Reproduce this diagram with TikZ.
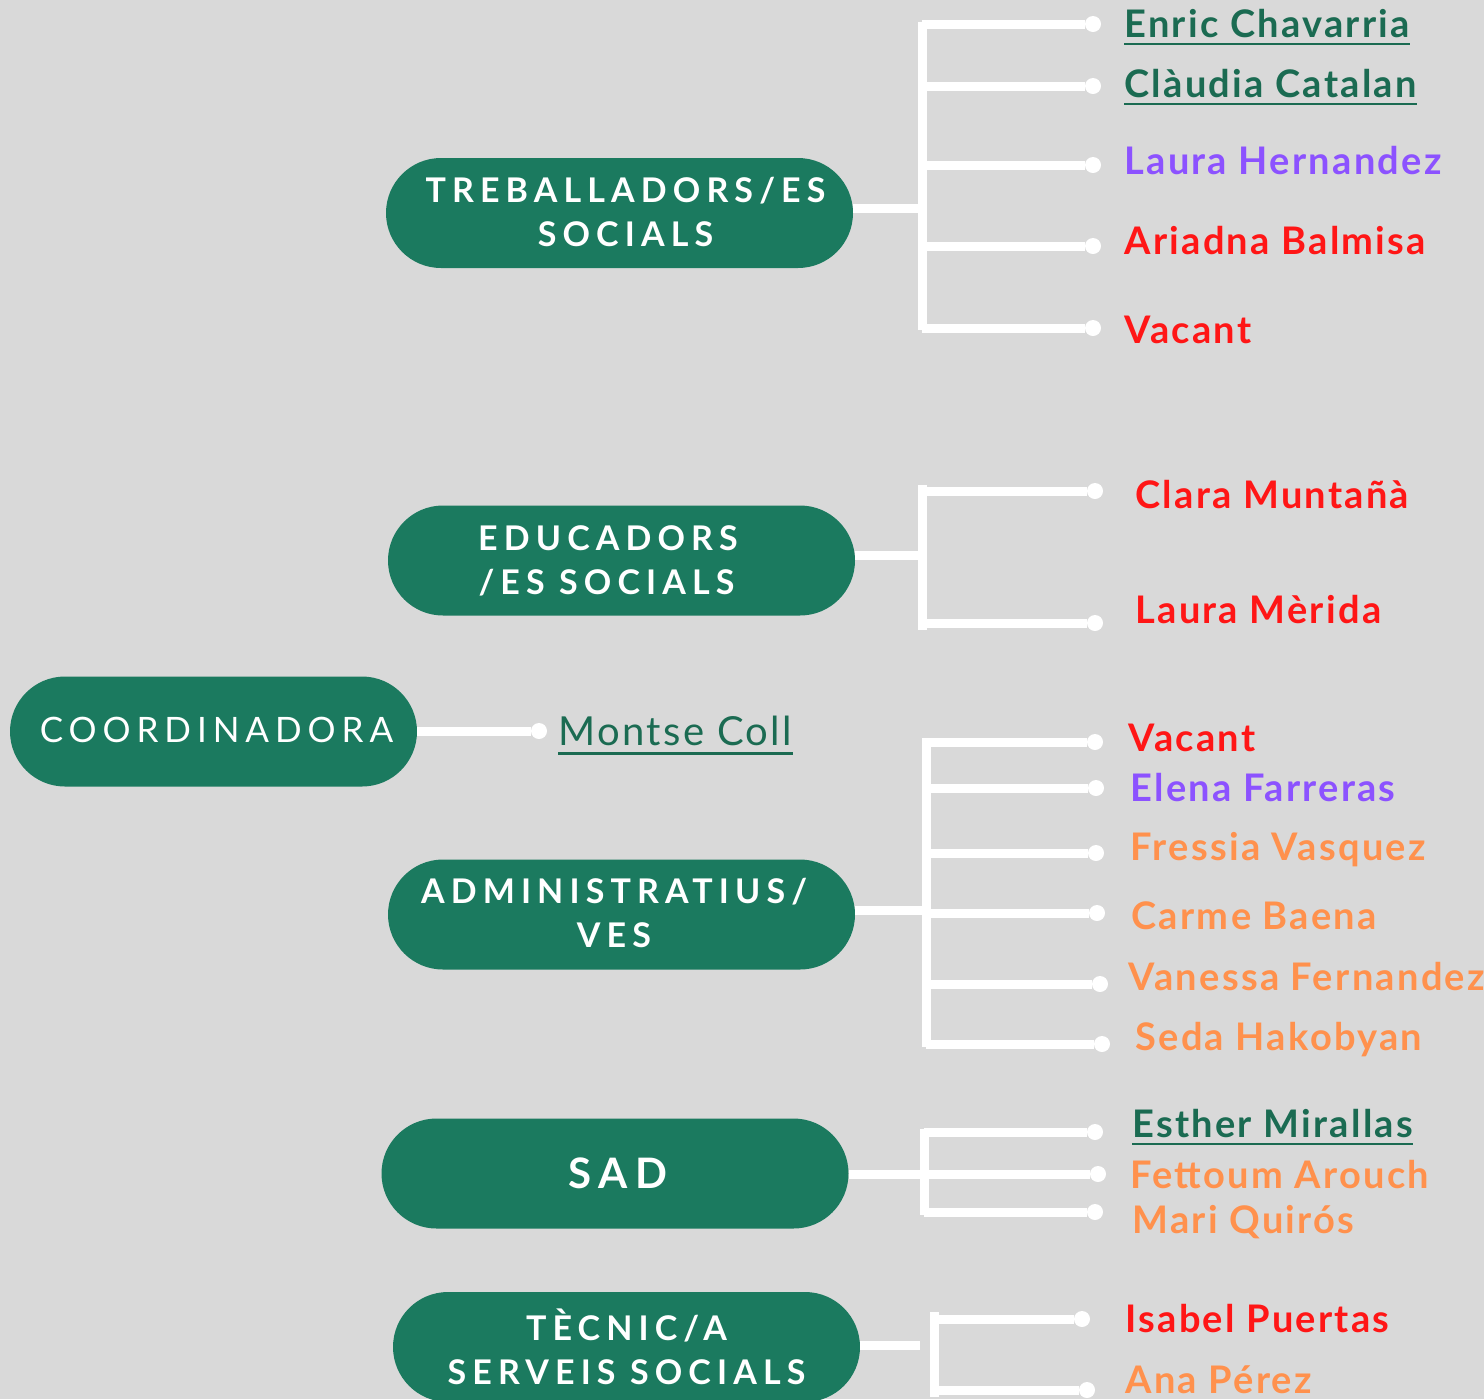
\documentclass[tikz,border=0pt]{standalone}
\usepackage{fontspec}
\setmainfont{Lato}
\newfontfamily\pillfont[LetterSpace=18]{Lato Bold}
\newfontfamily\coordfont[LetterSpace=17]{Lato}
\newfontfamily\namefont[LetterSpace=6]{Lato Bold}
\newfontfamily\montsefont[LetterSpace=6]{Lato}
\definecolor{bgc}{HTML}{D9D9D9}
\definecolor{pillc}{HTML}{1B7A5F}
\definecolor{greent}{HTML}{1B6B52}
\definecolor{purplet}{HTML}{8C52FF}
\definecolor{redt}{HTML}{FF1616}
\definecolor{oranget}{HTML}{FF914D}
\tikzset{
  pill/.style={fill=pillc, text=white, rounded corners=27.5pt, minimum width=233.5pt, minimum height=55pt, inner sep=0pt, align=center, font=\pillfont\fontsize{17}{22}\selectfont},
  conn/.style={draw=white, line width=4.5pt},
  dotn/.style={circle, fill=white, inner sep=0pt, minimum size=8pt},
  pname/.style={anchor=west, inner sep=0pt, font=\namefont\fontsize{19}{21}\selectfont},
  uline/.style={draw=greent, line width=1.3pt}
}
\begin{document}
\begin{tikzpicture}[x=0.5pt,y=-0.5pt]
\fill[bgc] (0,0) rectangle (1484,1399);
\useasboundingbox (0,0) rectangle (1484,1399);

% ---------- TREBALLADORS/ES SOCIALS ----------
\node[pill] (ts) at (619.5,213) {\kern6pt\raisebox{1.5pt}{TREBALLADORS/ES}\\\kern6pt\raisebox{1.5pt}{SOCIALS}};
\coordinate (tsj) at (922,208);
\coordinate (tst) at (922,22);
\coordinate (tsb) at (922,330);
\draw[conn] (ts.east |- tsj) -- (tsj);
\draw[conn] (tst) -- (tsb);
\foreach \i/\yy in {1/24,2/86,3/165,4/246,5/328}{
  \node[dotn] (tsd\i) at (1093,\yy) {};
  \coordinate (tsc\i) at (922,\yy);
  \draw[conn] (tsc\i) -- (tsd\i);
}
\node[pname, text=greent] (n1) at (1124,24) {Enric Chavarria};
\node[pname, text=greent] (n2) at (1124,84) {Clàudia Catalan};
\node[pname, text=purplet] (n3) at (1124,161) {Laura Hernandez};
\node[pname, text=redt] (n4) at (1124,241) {Ariadna Balmisa};
\node[pname, text=redt] (n5) at (1124,330) {Vacant};
\draw[uline] ([yshift=-3pt]n1.base west) -- ([yshift=-3pt]n1.base east);
\draw[uline] ([yshift=-3pt]n2.base west) -- ([yshift=-3pt]n2.base east);

% ---------- EDUCADORS/ES SOCIALS ----------
\node[pill] (es) at (621.5,560.5) {\kern-13.5pt EDUCADORS\\\kern-15pt /ES SOCIALS};
\coordinate (esj) at (922,555);
\coordinate (est) at (922,485);
\coordinate (esb) at (922,630);
\draw[conn] (es.east |- esj) -- (esj);
\draw[conn] (est) -- (esb);
\foreach \i/\yy in {1/491,2/623}{
  \node[dotn] (esd\i) at (1095,\yy) {};
  \coordinate (esc\i) at (922,\yy);
  \draw[conn] (esc\i) -- (esd\i);
}
\node[pname, text=redt] (n6) at (1135,495) {Clara Muntañà};
\node[pname, text=redt] (n7) at (1135,610) {Laura Mèrida};

% ---------- COORDINADORA ----------
\node[pill, minimum width=203.5pt, font=\coordfont\fontsize{17.5}{20}\selectfont] (co) at (213.5,731.5) {\kern3pt\raisebox{2pt}{COORDINADORA}};
\node[dotn] (cod) at (539,731) {};
\draw[conn] (co.east |- cod) -- (cod);
\node[pname, font=\montsefont\fontsize{20}{22}\selectfont, text=greent] (n8) at (558,731) {Montse Coll};
\draw[uline, line width=1.6pt] ([yshift=-4pt]n8.base west) -- ([yshift=-4pt]n8.base east);

% ---------- ADMINISTRATIUS/VES ----------
\node[pill] (ad) at (621.5,914.5) {\kern-7.5pt\raisebox{1.5pt}{ADMINISTRATIUS/}\\\kern-7.5pt\raisebox{1.5pt}{VES}};
\coordinate (adj) at (926,910);
\coordinate (adt) at (926,738);
\coordinate (adb) at (926,1047);
\draw[conn] (ad.east |- adj) -- (adj);
\draw[conn] (adt) -- (adb);
\foreach \i/\yy/\xx in {1/742/1095,2/788/1096,3/853/1096,4/913/1097,5/984/1100,6/1044/1102}{
  \node[dotn] (add\i) at (\xx,\yy) {};
  \coordinate (adc\i) at (926,\yy);
  \draw[conn] (adc\i) -- (add\i);
}
\node[pname, text=redt] (n9) at (1128,738) {Vacant};
\node[pname, text=purplet] (n10) at (1130,788) {Elena Farreras};
\node[pname, text=oranget] (n11) at (1130,850) {Fressia Vasquez};
\node[pname, text=oranget] (n12) at (1131,916) {Carme Baena};
\node[pname, text=oranget] (n13) at (1128,977) {Vanessa Fernandez};
\node[pname, text=oranget] (n14) at (1135,1040) {Seda Hakobyan};

% ---------- SAD ----------
\node[pill, font=\pillfont\fontsize{21}{24}\selectfont] (sad) at (615,1173.5) {\kern3pt SAD};
\coordinate (sadj) at (924,1174);
\coordinate (sadt) at (924,1129);
\coordinate (sadb) at (924,1215);
\draw[conn] (sad.east |- sadj) -- (sadj);
\draw[conn] (sadt) -- (sadb);
\foreach \i/\yy/\xx in {1/1132/1095,2/1174/1098,3/1212/1095}{
  \node[dotn] (sadd\i) at (\xx,\yy) {};
  \coordinate (sadc\i) at (924,\yy);
  \draw[conn] (sadc\i) -- (sadd\i);
}
\node[pname, text=greent] (n15) at (1132,1124) {Esther Mirallas};
\node[pname, text=oranget] (n16) at (1130,1175) {Fettoum Arouch};
\node[pname, text=oranget] (n17) at (1132,1222) {Mari Quirós};
\draw[uline] ([yshift=-3pt]n15.base west) -- ([yshift=-3pt]n15.base east);

% ---------- TÈCNIC/A SERVEIS SOCIALS ----------
\node[pill] (tc) at (626.5,1347) {TÈCNIC/A\\SERVEIS SOCIALS};
\coordinate (tcj) at (920,1345);
\coordinate (tct) at (934,1312);
\coordinate (tcb) at (934,1397);
\draw[conn] (tc.east |- tcj) -- (tcj);
\draw[conn] (tct) -- (tcb);
\foreach \i/\yy/\xx in {1/1319/1082,2/1390/1087}{
  \node[dotn] (tcd\i) at (\xx,\yy) {};
  \coordinate (tcc\i) at (934,\yy);
  \draw[conn] (tcc\i) -- (tcd\i);
}
\node[pname, text=redt] (n18) at (1125,1319) {Isabel Puertas};
\node[pname, text=oranget] (n19) at (1125,1380) {Ana Pérez};
\end{tikzpicture}
\end{document}
